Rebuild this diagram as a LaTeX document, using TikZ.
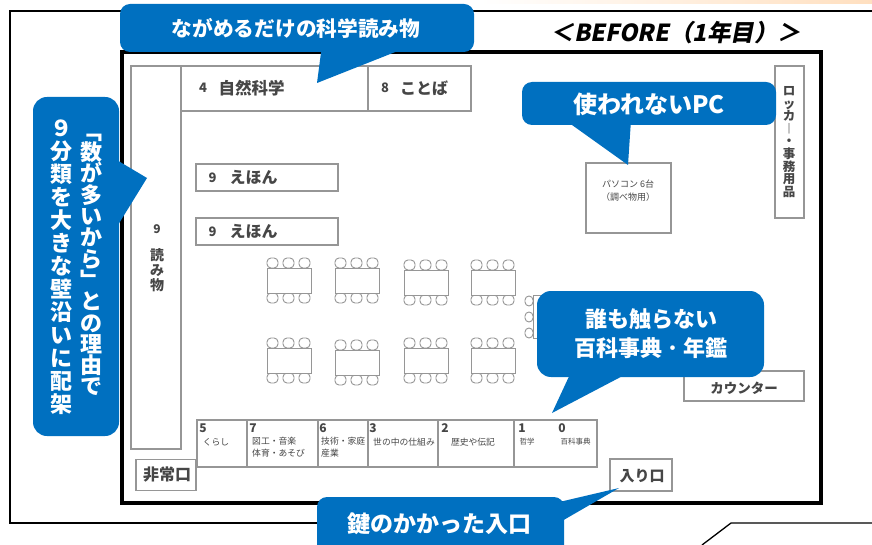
\documentclass[tikz,border=0pt]{standalone}
\usepackage{fontspec}
\usetikzlibrary{calc,positioning}
\setmainfont{Noto Sans CJK JP}
\newfontfamily\slantfont[FakeSlant=0.2]{Noto Sans CJK JP}
\newcommand{\fs}[2]{\fontsize{#1}{#2}\selectfont\lineskiplimit=-40pt}
\definecolor{callblue}{RGB}{0,112,192}
\definecolor{inkgray}{RGB}{70,70,70}
\definecolor{linegray}{RGB}{150,150,150}
\tikzstyle{callout}=[fill=callblue,rounded corners=10pt]
\tikzstyle{calltext}=[text=white,align=center,inner sep=0pt]
\tikzstyle{shelf}=[draw=linegray,line width=1.3pt,fill=white]
\tikzstyle{shelftext}=[text=inkgray,align=center,inner sep=0pt]
\tikzstyle{numtext}=[shelftext,font=\bfseries\fs{12}{12}]
\tikzstyle{tinytext}=[shelftext,font=\fs{8.8}{12}]
\tikzstyle{tablebox}=[draw=linegray,line width=1.2pt,fill=white]
\tikzstyle{chair}=[draw=linegray,line width=0.9pt,rounded corners=4pt]
\tikzstyle{frameline}=[draw=black,line width=1.3pt]
\begin{document}
\begin{tikzpicture}[x=1pt,y=-1pt]
 \useasboundingbox (0,0) rectangle (872,545);
 \fill[white] (0,0) rectangle (872,545);

 \shade[left color=white,right color=orange!25] (480,0) rectangle (872,4);

 % outer frame
 \coordinate (frameA) at (872,11);
 \coordinate (frameB) at (10,11);
 \coordinate (frameC) at (10,523);
 \coordinate (frameD) at (320,523);
 \coordinate (frameE) at (702,545);
 \coordinate (frameF) at (731,523);
 \coordinate (frameG) at (872,523);
 \draw[frameline] (frameA) -- (frameB) -- (frameC) -- (frameD);
 \draw[frameline] (frameE) -- (frameF) -- (frameG);

 \node[font=\slantfont\bfseries\fs{23.5}{23.5},inner sep=0pt] (title) at (676,33) {＜BEFORE（1年目）＞};

 % room
 \node[draw=black,line width=3.2pt,minimum width=699pt,minimum height=451pt,inner sep=0pt] (room) at (471.5,277.5) {};

 % wall shelves
 \node[shelf,minimum width=50pt,minimum height=383pt] (s9) at (156,257.5) {};
 \node[shelf,minimum width=187pt,minimum height=45pt] (s4) at (274.5,88.5) {};
 \node[shelf,minimum width=103pt,minimum height=45pt] (s8) at (419.5,88.5) {};
 \node[shelf,minimum width=142pt,minimum height=27pt] (e1) at (267,177.5) {};
 \node[shelf,minimum width=142pt,minimum height=27pt] (e2) at (267,231.5) {};
 \node[shelf,minimum width=85pt,minimum height=70pt] (pc) at (628.5,198) {};
 \node[shelf,minimum width=29pt,minimum height=152pt] (locker) at (789.5,142) {};
 \node[shelf,minimum width=120pt,minimum height=30pt] (counter) at (744,386) {};
 \node[shelf,minimum width=62pt,minimum height=32pt] (entry) at (641,475) {};
 \node[shelf,minimum width=60pt,minimum height=31pt] (exit) at (166,475) {};

 \node[numtext,font=\bfseries\fs{13}{13}] at (203,88) {4};
 \node[shelftext,font=\bfseries\fs{16.5}{16.5}] at (251.5,88) {自然科学};
 \node[numtext,font=\bfseries\fs{13}{13}] at (385,88) {8};
 \node[shelftext,font=\bfseries\fs{16}{16}] at (424,88) {ことば};
 \foreach \n in {e1,e2} {
  \node[numtext,font=\bfseries\fs{13}{13},anchor=west] at ([xshift=13pt]\n.west) {9};
  \node[shelftext,font=\bfseries\fs{16}{16},anchor=west] at ([xshift=34pt]\n.west) {えほん};
 }
 \node[numtext] at (157,229) {9};
 \node[shelftext,font=\bfseries\fs{14}{15}] at (157,270) {読\\み\\物};
 \node[shelftext,font=\bfseries\fs{12.5}{12.6}] at (789,142) {ロ\\ッ\\カ\\︱\\・\\事\\務\\用\\品};
 \node[shelftext,font=\fs{9}{13}] at (628,191) {パソコン 6台\\（調べ物用）};
 \node[shelftext,font=\bfseries\fs{13.5}{13.5}] at (744,388) {カウンター};
 \node[shelftext,font=\bfseries\fs{15}{15}] at (642,476) {入り口};
 \node[shelftext,font=\bfseries\fs{16}{16}] at (167,475) {非常口};

 % tables
 \foreach \x/\y/\k in {267/268/a,335/268/b,404/270/c,471/270/d,267/348/e,335/350/f,404/348/g,471/348/h} {
  \foreach \c in {0,16,32} {
   \draw[chair] (\x+\c,\y) rectangle ++(11,-10);
   \draw[chair] (\x+\c,\y+25) rectangle ++(11,10);
  }
  \node[tablebox,anchor=north west,minimum width=44pt,minimum height=25pt,inner sep=0pt] (t\k) at (\x,\y) {};
 }
 \foreach \y in {296,312,328} {
  \draw[chair] (533,\y) rectangle ++(-8,10);
 }
 \draw[linegray,line width=1pt] (545,295) -- (533,295) -- (533,338) -- (545,338);

 % bottom row of shelves
 \foreach \xa/\xb/\n in {197/247/s5,247/318/s7,318/368/s6,368/438/s3,438/514/s2,514/597/s1} {
  \path (\xa,420) coordinate (\n a) (\xb,467) coordinate (\n b);
  \draw[shelf] (\n a) rectangle (\n b);
 }
 \node[numtext] at (203,428) {5};
 \node[numtext] at (253,428) {7};
 \node[numtext] at (323,428) {6};
 \node[numtext] at (373,428) {3};
 \node[numtext] at (445,428) {2};
 \node[numtext] at (522,428) {1};
 \node[numtext] at (562,428) {0};
 \node[tinytext] at (216,442) {くらし};
 \node[tinytext,anchor=north west,align=left] at (252,437) {図工・音楽\\体育・あそび};
 \node[tinytext,anchor=north west,align=left] at (321,437) {技術・家庭\\産業};
 \node[tinytext] at (404,442) {世の中の仕組み};
 \node[tinytext] at (473,442) {歴史や伝記};
 \node[tinytext,font=\fs{7.5}{9}] at (527,442) {哲学};
 \node[tinytext,font=\fs{7.5}{9}] at (575.5,442) {百科事典};

 % callouts
 \fill[callblue] (322,45) -- (317,83) -- (413,45) -- cycle;
 \fill[callout] (120,4) rectangle (474,52);
 \node[calltext,font=\bfseries\fs{20.7}{20.7}] (c1) at (296,28) {ながめるだけの科学読み物};

 \fill[callblue] (565,120) -- (628,165) -- (631,120) -- cycle;
 \fill[callout] (522,82) rectangle (776,125);
 \node[calltext,font=\bfseries\fs{24}{24}] (c2) at (649,104) {使われないPC};

 \fill[callblue] (572,370) -- (552,413) -- (634,370) -- cycle;
 \fill[callout,rounded corners=14pt] (537,291) rectangle (764,377);
 \node[calltext,font=\bfseries\fs{22}{29}] (c3) at (651,334) {誰も触らない\\百科事典\kern5pt･\kern5pt 年鑑};

 \fill[callblue] (110,156) -- (147,178) -- (110,238) -- cycle;
 \fill[callout,rounded corners=14pt] (33,97) rectangle (119,436);
 \node[calltext,font=\bfseries\fs{22}{21.3}] (c4a) at (91,265) {﹁\\数\\が\\多\\い\\か\\ら\\﹂\\と\\の\\理\\由\\で};
 \node[calltext,font=\bfseries\fs{22}{23}] (c4b) at (61.5,267) {９\\分\\類\\を\\大\\き\\な\\壁\\沿\\い\\に\\配\\架};

 \fill[callblue] (555,503) -- (619,488) -- (555,525) -- cycle;
 \fill[callout] (317,497) rectangle (564,555);
 \node[calltext,font=\bfseries\fs{23}{23}] (c5) at (439,524) {鍵のかかった入口};
\end{tikzpicture}
\end{document}
